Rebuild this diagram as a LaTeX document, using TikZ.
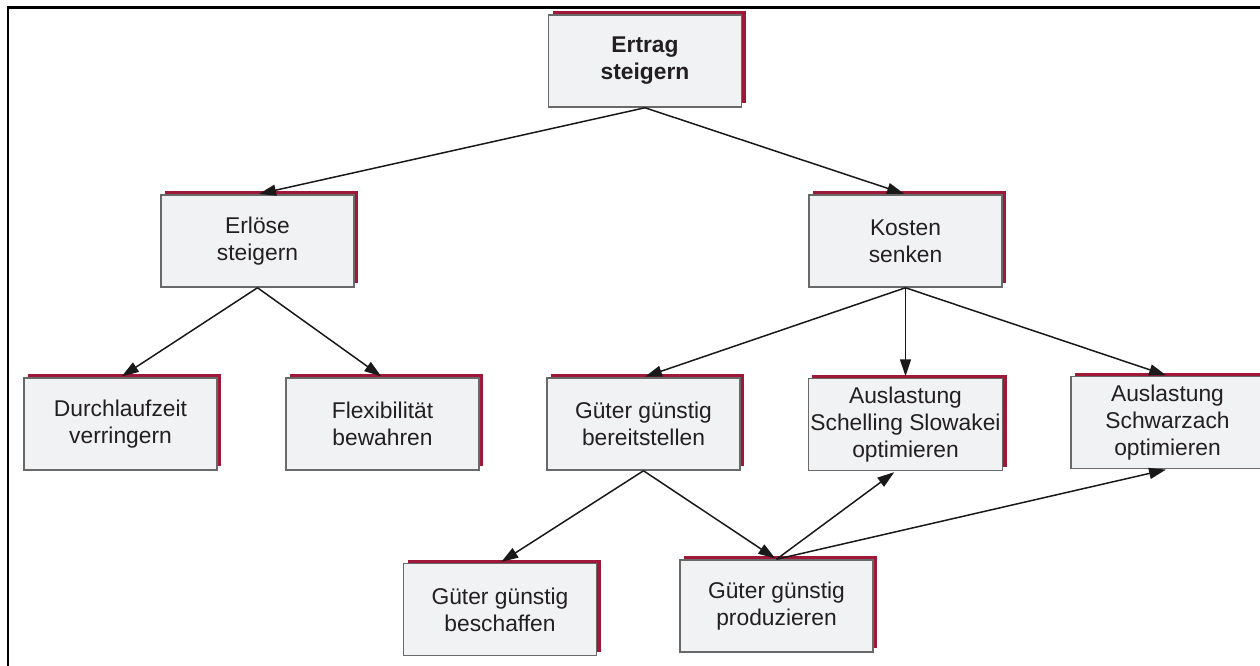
\documentclass[tikz,border=0pt]{standalone}
\usepackage{fontspec}
\setmainfont{Liberation Sans}
\usetikzlibrary{arrows.meta,shadows}
\definecolor{boxfill}{RGB}{241,242,244}
\definecolor{boxline}{RGB}{105,105,105}
\definecolor{shadowred}{RGB}{160,24,56}
\definecolor{txt}{RGB}{35,31,32}
\tikzset{
  goal/.style={draw=boxline, line width=1.5pt, fill=boxfill,
    minimum width=193pt, minimum height=92pt, inner sep=2pt,
    align=center, text=txt, font=\fontsize{22.8}{27}\selectfont,
    general shadow={fill=shadowred, shadow xshift=4pt, shadow yshift=4pt}},
  link/.style={draw=black!90, line width=1.5pt, shorten >=1.5pt,
    -{Triangle[length=17pt,width=11pt]}},
}
\begin{document}
\begin{tikzpicture}[x=1pt,y=-1pt]
\useasboundingbox (0,0) rectangle (1260,666);
% frame
\draw[line width=2.6pt] (8,666) -- (8,7.5) -- (1261,7.5);
% goals
\node[goal] (ertrag) at (645,61) {\textbf{Ertrag}\\\textbf{steigern}};
\node[goal] (erloese) at (257.5,241) {Erlöse\\steigern};
\node[goal] (kosten) at (905.5,241) {Kosten\\senken};
\node[goal] (durch) at (120.5,424) {Durchlaufzeit\\verringern};
\node[goal] (flex) at (382.5,424) {Flexibilität\\bewahren};
\node[goal] (bereit) at (643.5,424) {Güter günstig\\bereitstellen};
\node[goal] (schelling) at (905.5,424.5) {Auslastung\\Schelling Slowakei\\optimieren};
\node[goal] (schwarz) at (1167.5,422.5) {Auslastung\\Schwarzach\\optimieren};
\node[goal] (beschaffen) at (500,609.5) {Güter günstig\\beschaffen};
\node[goal] (produz) at (776.5,606) {Güter günstig\\produzieren};
% connectors
\draw[link] (ertrag.south) -- (erloese.north);
\draw[link] (ertrag.south) -- (kosten.north);
\draw[link] (erloese.south) -- (durch.north);
\draw[link] (erloese.south) -- (flex.north);
\draw[link] (kosten.south) -- (bereit.north);
\draw[link] (kosten.south) -- (schelling.north);
\draw[link] (kosten.south) -- (schwarz.north);
\draw[link] (bereit.south) -- (beschaffen.north);
\draw[link] (bereit.south) -- (produz.north);
\draw[link] (produz.north) -- ([xshift=-10pt]schelling.south);
\draw[link] (produz.north) -- (schwarz.south);
\end{tikzpicture}
\end{document}
